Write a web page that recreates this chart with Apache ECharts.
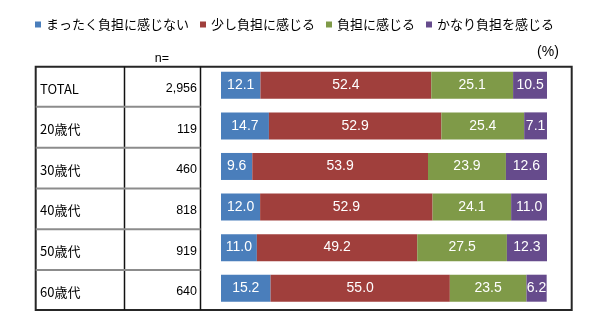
<!DOCTYPE html>
<html>
<head>
<meta charset="utf-8">
<script src="https://cdn.jsdelivr.net/npm/echarts@6/dist/echarts.min.js"></script>
<style>
html,body{margin:0;padding:0;background:#fff;}
#main{width:600px;height:323px;}
</style>
</head>
<body>
<div id="main"></div>
<script>
const categories = ['TOTAL', '20歳代', '30歳代', '40歳代', '50歳代', '60歳代'];
const nValues = ['2,956', '119', '460', '818', '919', '640'];
const seriesNames = ['まったく負担に感じない', '少し負担に感じる', '負担に感じる', 'かなり負担を感じる'];
const notAtAll = [12.1, 14.7, 9.6, 12.0, 11.0, 15.2];
const aLittle = [52.4, 52.9, 53.9, 52.9, 49.2, 55.0];
const burden = [25.1, 25.4, 23.9, 24.1, 27.5, 23.5];
const heavy = [10.5, 7.1, 12.6, 11.0, 12.3, 6.2];
const colors = ['#4a7ebb', '#a03f3c', '#7f9a48', '#664b8c'];

const seriesValues = [notAtAll, aLittle, burden, heavy];
const latin = 'Liberation Sans, Arial, sans-serif';
const cjk = '"Noto Sans CJK JP", "Liberation Sans", sans-serif';

const chart = echarts.init(document.getElementById('main'), null, {renderer: 'canvas'});

const rowLines = [106.7, 147.7, 188.5, 229.3, 270].map(y => ({
  type: 'line',
  shape: {x1: 35.7, y1: y, x2: 200.5, y2: y},
  style: {stroke: '#8c8c8c', lineWidth: 2}
}));

chart.setOption({
  animation: false,
  color: colors,
  legend: {
    data: seriesNames,
    left: 30,
    top: 13,
    icon: 'rect',
    itemWidth: 6,
    itemHeight: 6,
    itemGap: 11,
    textStyle: {fontFamily: cjk, fontSize: 13, color: '#000'}
  },
  grid: {left: 221, right: 53, top: 65, bottom: 14.5, containLabel: false},
  xAxis: {
    type: 'value', min: 0, max: 100, show: false
  },
  yAxis: [
    {
      type: 'category', inverse: true, data: categories,
      axisLine: {show: false}, axisTick: {show: false},
      axisLabel: {align: 'left', margin: 181, fontSize: 13, color: '#000',
        fontFamily: cjk, verticalAlign: 'top', lineHeight: 7}
    },
    {
      type: 'category', inverse: true, data: nValues, position: 'left',
      axisLine: {show: false}, axisTick: {show: false},
      axisLabel: {align: 'right', margin: 24, fontSize: 12.5, color: '#000',
        fontFamily: latin, verticalAlign: 'top', lineHeight: 7}
    }
  ],
  series: seriesValues.map((vals, i) => ({
    name: seriesNames[i],
    type: 'bar',
    stack: 'total',
    barWidth: 27,
    data: vals,
    itemStyle: {color: colors[i]},
    label: {
      show: true, position: 'inside', color: '#fff',
      fontFamily: latin, fontSize: 14,
      formatter: p => p.value.toFixed(1)
    }
  })),
  graphic: [
    {type: 'rect', shape: {x: 35.7, y: 66.7, width: 536, height: 243.3},
      style: {fill: 'none', stroke: '#262626', lineWidth: 2}},
    {type: 'line', shape: {x1: 124.5, y1: 66.7, x2: 124.5, y2: 310},
      style: {stroke: '#111', lineWidth: 1.5}},
    {type: 'line', shape: {x1: 200.5, y1: 66.7, x2: 200.5, y2: 310},
      style: {stroke: '#111', lineWidth: 1.5}},
    ...rowLines,
    {type: 'text', x: 162, y: 59,
      style: {text: 'n=', fontFamily: latin, fontSize: 12.5, fill: '#000',
        align: 'center', verticalAlign: 'middle'}},
    {type: 'text', x: 548, y: 52,
      style: {text: '(%)', fontFamily: latin, fontSize: 14, fill: '#000',
        align: 'center', verticalAlign: 'middle'}}
  ]
});
</script>
</body>
</html>
